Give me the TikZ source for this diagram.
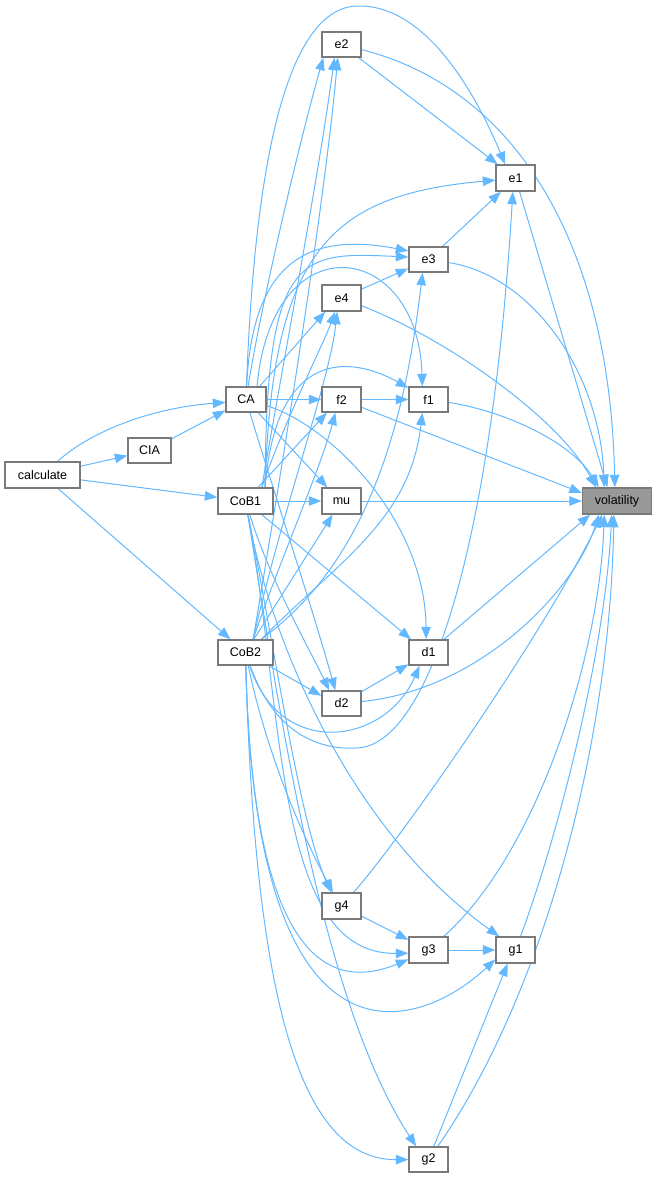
\documentclass[tikz,border=0pt]{standalone}
\usepackage{fontspec}
\setmainfont{Liberation Sans}
\usetikzlibrary{arrows.meta}
\pgfdeclarelayer{bg}
\pgfsetlayers{bg,main}
\definecolor{edgec}{HTML}{63B8FF}
\definecolor{boxc}{HTML}{7A7A7A}
\definecolor{rootc}{HTML}{999999}
\begin{document}
\begin{tikzpicture}[x=1pt,y=-1pt,
  fn/.style={draw=boxc, line width=1.4pt, fill=white, minimum width=39pt, minimum height=25pt, inner sep=0pt, font=\fontsize{12.5}{14}\selectfont, text=black},
  call/.style={draw=edgec, line width=1pt, -{Triangle[length=12.5pt,width=9.5pt]}}
]
\useasboundingbox (0,0) rectangle (656,1178);

\node[fn, minimum width=75pt, minimum height=26pt] (calc) at (42.5,475) {calculate};
\node[fn, minimum width=43pt] (CIA) at (149.5,450.5) {CIA};
\node[fn, minimum width=40pt] (CA) at (246,399.5) {CA};
\node[fn, minimum width=55pt, minimum height=26pt] (CoB1) at (245.5,501) {CoB1};
\node[fn, minimum width=55pt] (CoB2) at (245.5,652.5) {CoB2};
\node[fn] (e2) at (341.5,44.5) {e2};
\node[fn, minimum height=26pt] (e1) at (515.5,178) {e1};
\node[fn] (e3) at (428.5,259.5) {e3};
\node[fn, minimum height=26pt] (e4) at (341.5,298) {e4};
\node[fn] (f2) at (341.5,399.5) {f2};
\node[fn] (f1) at (428.5,399.5) {f1};
\node[fn, minimum height=26pt] (mu) at (341.5,501) {mu};
\node[fn, minimum width=69pt, minimum height=26pt, fill=rootc] (vol) at (617,501) {volatility};
\node[fn] (d1) at (428.5,652.5) {d1};
\node[fn] (d2) at (341.5,703.5) {d2};
\node[fn, minimum height=26pt] (g4) at (341.5,906) {g4};
\node[fn, minimum height=26pt] (g3) at (428.5,950) {g3};
\node[fn, minimum height=26pt] (g1) at (515.5,950) {g1};
\node[fn] (g2) at (428.5,1159.5) {g2};

\begin{pgfonlayer}{bg}
% calculate
\draw[call] (calc) .. controls (90,432) and (150,408) .. (CA.188);
\draw[call] (calc) -- (CIA);
\draw[call] (CIA) -- (CA);
\draw[call] (calc) -- (CoB1);
\draw[call] (calc) -- (CoB2);
% CA
\draw[call] (CA) -- (f2);
\draw[call] (CA) -- (mu.136);
\draw[call] (CA.44) -- (e4.220);
\draw[call] (CA) .. controls (330,425) and (425,520) .. (d1.100);
\draw[call] (CA) .. controls (270,480) and (310,600) .. (d2.115);
\draw[call] (CA) .. controls (262,300) and (300,140) .. (e2.216);
\draw[call] (CA) .. controls (252,270) and (300,230) .. (e3.157);
\draw[call] (CA) .. controls (255,150) and (290,8) .. (357,6) .. controls (420,4) and (470,80) .. (e1.127);
\draw[call] (CA.50) .. controls (272,220) and (418,240) .. (f1.115);
% CoB1
\draw[call] (CoB1) -- (mu);
\draw[call] (CoB1) -- (d1.143);
\draw[call] (CoB1) .. controls (270,580) and (310,650) .. (d2.133);
\draw[call] (CoB1.35) .. controls (272,250) and (330,195) .. (e1.186);
\draw[call] (CoB1.35) .. controls (266,250) and (300,252) .. (e3.173);
\draw[call] (CoB1.35) .. controls (275,360) and (340,350) .. (f1.150);
\draw[call] (CoB1) -- (f2.222);
\draw[call] (CoB1.40) .. controls (280,380) and (318,180) .. (e2.242);
\draw[call] (CoB1.40) .. controls (285,420) and (325,340) .. (e4.245);
\draw[call] (CoB1) .. controls (270,640) and (350,830) .. (g1.140);
\draw[call] (CoB1) .. controls (278,700) and (320,1000) .. (g2.133);
\draw[call] (CoB1) .. controls (285,720) and (275,955) .. (g3.189);
\draw[call] (CoB1) .. controls (280,680) and (300,820) .. (g4.128);
% CoB2
\draw[call] (CoB2.60) .. controls (285,450) and (325,200) .. (e2.254);
\draw[call] (CoB2.60) .. controls (285,500) and (330,380) .. (e4.252);
\draw[call] (CoB2.60) .. controls (280,560) and (320,470) .. (f2.245);
\draw[call] (CoB2) -- (mu.237);
\draw[call] (CoB2.40) .. controls (370,560) and (405,420) .. (e3.246);
\draw[call] (CoB2.40) .. controls (340,560) and (410,520) .. (f1.245);
\draw[call] (CoB2) -- (d2.159);
\draw[call] (CoB2) .. controls (280,760) and (385,745) .. (d1.236);
\draw[call] (CoB2) .. controls (275,735) and (320,750) .. (357,748) .. controls (430,745) and (492,540) .. (e1.259);
\draw[call] (CoB2) .. controls (255,1090) and (420,1030) .. (g1.205);
\draw[call] (CoB2) .. controls (252,920) and (310,1000) .. (g3.205);
\draw[call] (CoB2) .. controls (255,1000) and (300,1160) .. (g2);
\draw[call] (CoB2) .. controls (268,760) and (305,840) .. (g4.122);
% internal
\draw[call] (e2) -- (e1);
\draw[call] (e3) -- (e1);
\draw[call] (e4) -- (e3);
\draw[call] (f2) -- (f1);
\draw[call] (d2) -- (d1);
\draw[call] (g4) -- (g3);
\draw[call] (g3) -- (g1);
\draw[call] (g2) -- (g1.240);
% to volatility
\draw[call] (e2) .. controls (520,90) and (610,250) .. (vol.99);
\draw[call] (e1) -- (vol.125);
\draw[call] (e3) .. controls (530,275) and (600,370) .. (vol.133);
\draw[call] (e4) .. controls (450,340) and (560,420) .. (vol.147);
\draw[call] (f1) .. controls (500,410) and (570,440) .. (vol.143);
\draw[call] (f2) -- (vol.167);
\draw[call] (mu) -- (vol);
\draw[call] (d1) -- (vol.207);
\draw[call] (d2) .. controls (480,690) and (575,590) .. (vol.217);
\draw[call] (g4) .. controls (400,840) and (540,640) .. (vol.223);
\draw[call] (g3) .. controls (540,850) and (600,650) .. (vol.227);
\draw[call] (g1) .. controls (560,830) and (605,650) .. (vol.249);
\draw[call] (g2) .. controls (540,1000) and (610,750) .. (vol.257);
\end{pgfonlayer}
\end{tikzpicture}
\end{document}
